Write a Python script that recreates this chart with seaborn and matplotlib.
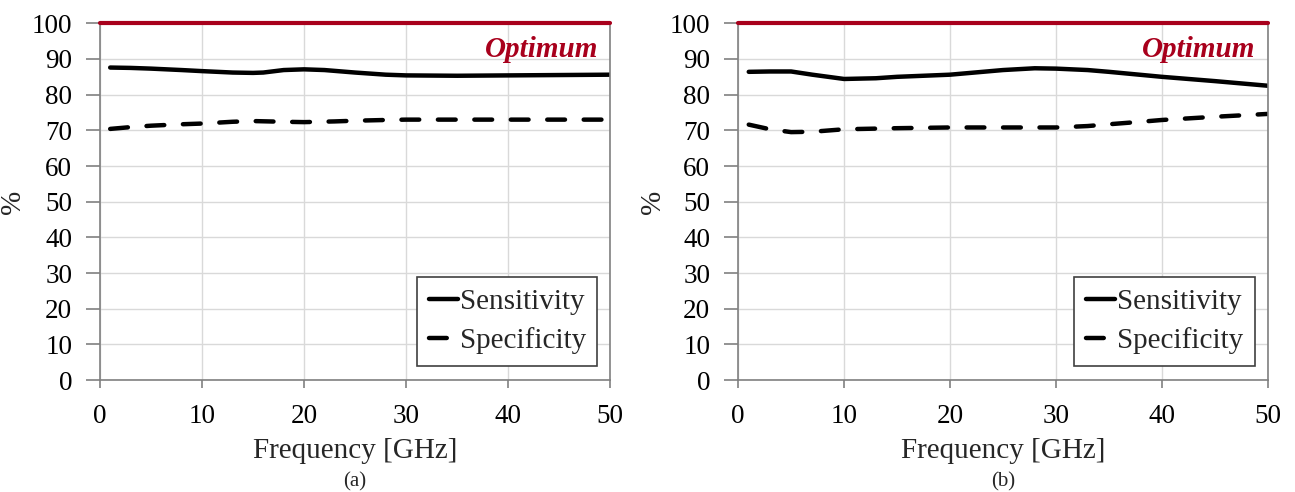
import matplotlib
matplotlib.use("Agg")
import matplotlib.pyplot as plt
import seaborn as sns
import pandas as pd

# Panel (a)
sens_a_f = [1, 3, 5, 8, 10, 13, 15, 16, 18, 20, 22, 25, 28, 30, 35, 40, 45, 50]
sens_a = [87.6, 87.5, 87.3, 86.9, 86.6, 86.2, 86.1, 86.2, 86.9, 87.1, 86.9, 86.2, 85.6, 85.4, 85.3, 85.4, 85.5, 85.6]
spec_a_f = [1, 3, 5, 8, 10, 13, 15, 18, 20, 23, 25, 28, 30, 35, 40, 45, 50]
spec_a = [70.4, 70.9, 71.3, 71.7, 71.9, 72.4, 72.6, 72.4, 72.3, 72.5, 72.7, 72.9, 73.0, 73.0, 73.0, 73.0, 73.0]

# Panel (b)
sens_b_f = [1, 3, 5, 7, 10, 13, 15, 20, 25, 28, 30, 33, 35, 40, 45, 50]
sens_b = [86.4, 86.5, 86.5, 85.6, 84.4, 84.6, 85.0, 85.6, 86.9, 87.4, 87.3, 86.9, 86.4, 85.0, 83.8, 82.5]
spec_b_f = [1, 3, 5, 7, 10, 15, 20, 25, 30, 33, 35, 38, 40, 45, 50]
spec_b = [71.6, 70.3, 69.5, 69.6, 70.3, 70.6, 70.8, 70.8, 70.8, 71.2, 71.7, 72.4, 72.9, 73.8, 74.6]

optimum = 100
x_ticks = [0, 10, 20, 30, 40, 50]
y_ticks = list(range(0, 101, 10))
panel_labels = ["(a)", "(b)"]

sns.set_theme(style="white")
plt.rcParams["font.family"] = ["Liberation Serif", "DejaVu Serif"]

fig = plt.figure(figsize=(12.95, 4.92), dpi=100)
axes = [fig.add_axes([0.0772, 0.2276, 0.394, 0.725]),
        fig.add_axes([0.5700, 0.2276, 0.409, 0.725])]
ylabel_x = [-0.145, -0.136]

panels = [(sens_a_f, sens_a, spec_a_f, spec_a), (sens_b_f, sens_b, spec_b_f, spec_b)]
red = "#A8001C"
fs = 21
tick_fs = 19.5

for ax, (sf, sv, pf, pv), lab, yx in zip(axes, panels, panel_labels, ylabel_x):
    df_s = pd.DataFrame({"f": sf, "v": sv})
    df_p = pd.DataFrame({"f": pf, "v": pv})
    sns.lineplot(data=df_s, x="f", y="v", ax=ax, color="black", lw=3.2,
                 label="Sensitivity", solid_capstyle="round")
    sns.lineplot(data=df_p, x="f", y="v", ax=ax, color="black", lw=3.2,
                 label="Specificity", dashes=False)
    ax.lines[-1].set_dashes([4, 4.2])
    ax.lines[-1].set_dash_capstyle("round")
    ax.axhline(optimum, color=red, lw=3, zorder=5, clip_on=False)
    ax.text(48.8, 92.8, "Optimum", color=red, fontsize=fs, fontweight="bold",
            fontstyle="italic", ha="right", va="center")

    ax.set_xlim(0, 50)
    ax.set_ylim(0, 100)
    ax.set_xticks(x_ticks)
    ax.set_yticks(y_ticks)
    ax.grid(True, color="#D9D9D9", lw=1)
    for s in ax.spines.values():
        s.set_color("#808080")
        s.set_linewidth(1.2)
    ax.tick_params(axis="both", labelsize=tick_fs, colors="#808080", labelcolor="black",
                   width=1.2, direction="out", left=True, bottom=True)
    ax.tick_params(axis="y", length=10, pad=10)
    ax.tick_params(axis="x", length=6, pad=11)
    ax.set_xlabel("Frequency [GHz]", fontsize=fs, labelpad=7)
    ax.set_ylabel("%", fontsize=fs)
    ax.yaxis.set_label_coords(yx, 0.5)

    leg = ax.legend(loc="lower right", bbox_to_anchor=(0.975, 0.04), fontsize=fs,
                    frameon=True, fancybox=False, handlelength=1.0, handletextpad=0.05,
                    borderpad=0.4, labelspacing=0.4, borderaxespad=0)
    leg.get_frame().set_edgecolor("#404040")
    leg.get_frame().set_linewidth(1.2)
    leg.get_frame().set_alpha(1)
    ax.text(0.5, -0.286, lab, transform=ax.transAxes, ha="center", va="center", fontsize=15)

fig.savefig("out.png", dpi=100)
